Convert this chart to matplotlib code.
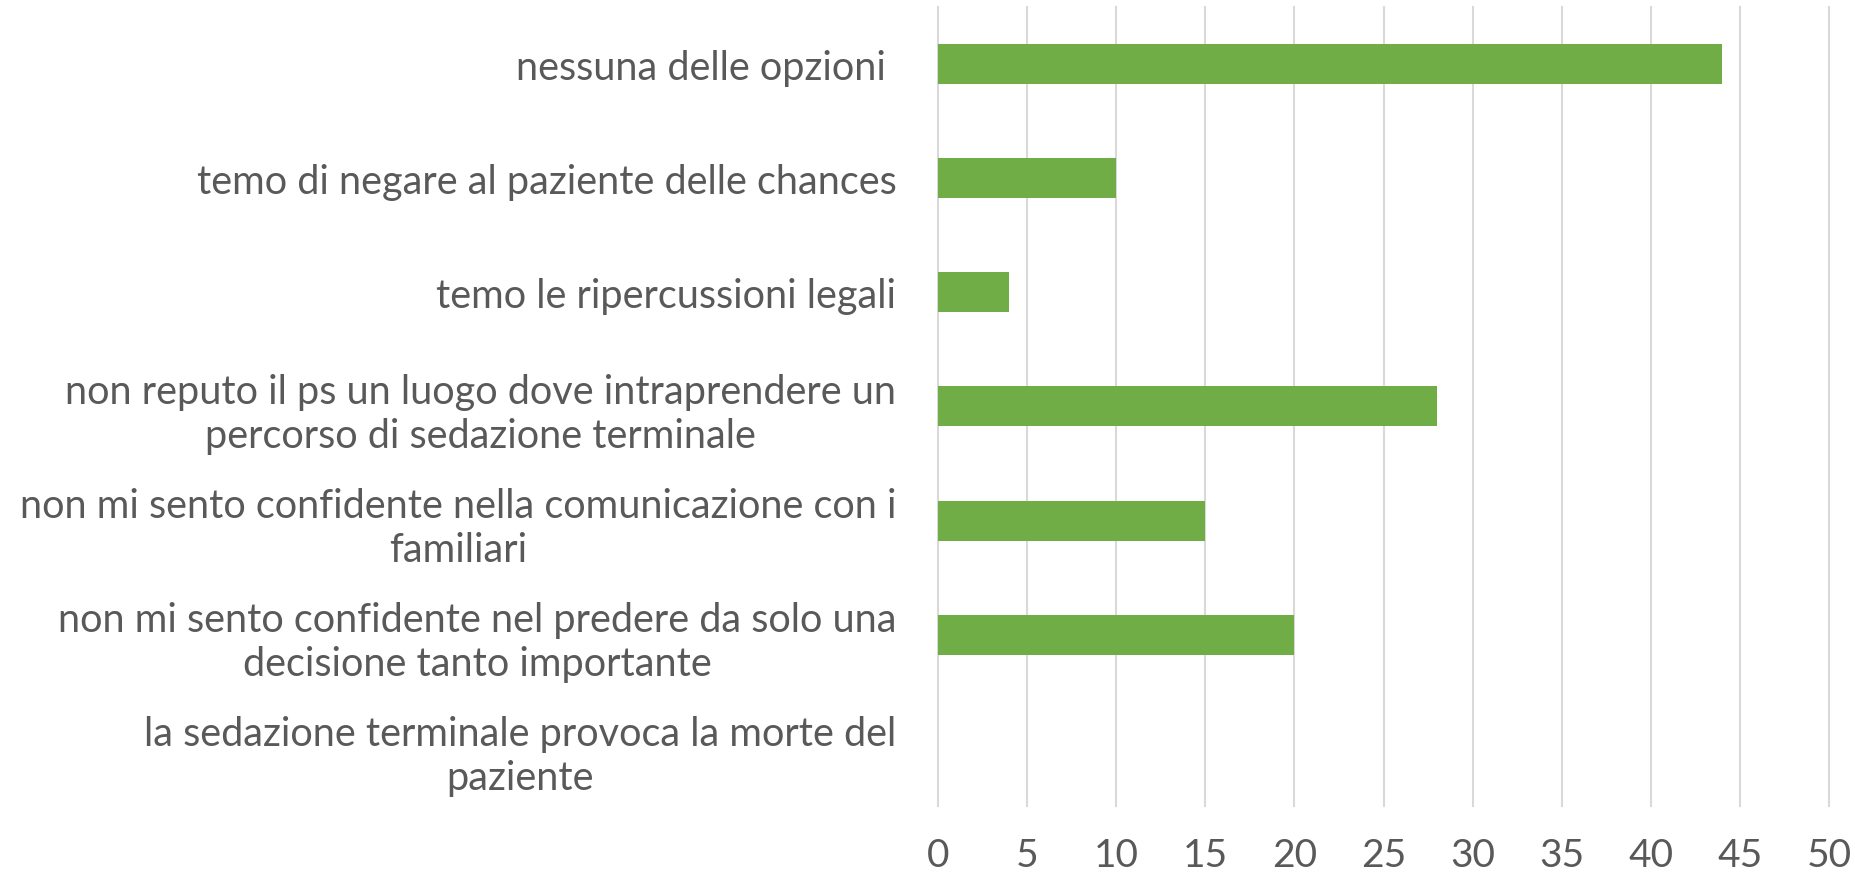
import matplotlib
matplotlib.use("Agg")
import matplotlib.pyplot as plt
import numpy as np

categories = [
    "nessuna delle opzioni ",
    "temo di negare al paziente delle chances",
    "temo le ripercussioni legali",
    "non reputo il ps un luogo dove intraprendere un\npercorso di sedazione terminale",
    "non mi sento confidente nella comunicazione con i\nfamiliari",
    "non mi sento confidente nel predere da solo una\ndecisione tanto importante",
    "la sedazione terminale provoca la morte del\npaziente",
]
values = [44, 10, 4, 28, 15, 20, 0]
xticks = [0, 5, 10, 15, 20, 25, 30, 35, 40, 45, 50]

plt.rcParams['font.family'] = ['Lato', 'DejaVu Sans']

fig = plt.figure(figsize=(18.56, 8.79), dpi=100)
ax = fig.add_axes([0.5054, 0.0819, 0.4801, 0.9091])

y = np.arange(len(categories))
ax.barh(y, values, height=0.35, color="#70AD47", zorder=3)
ax.set_ylim(len(categories) - 0.5, -0.5)
ax.set_xlim(0, 50)
ax.set_xticks(xticks)
ax.set_xticklabels([str(t) for t in xticks])
ax.set_yticks(y)
ax.set_yticklabels(categories, ha="right", multialignment="center",
                   linespacing=1.22)
ax.tick_params(axis="x", length=0, pad=22, labelsize=28, labelcolor="#595959")
ax.tick_params(axis="y", length=0, pad=30, labelsize=28.5, labelcolor="#595959")

ax.xaxis.grid(True, color="#d9d9d9", linewidth=1.5, zorder=0)
ax.yaxis.grid(False)
for s in ax.spines.values():
    s.set_visible(False)
for gl in ax.get_xgridlines():
    gl.set_clip_on(False)

fig.savefig("out.png", dpi=100, facecolor="white")
